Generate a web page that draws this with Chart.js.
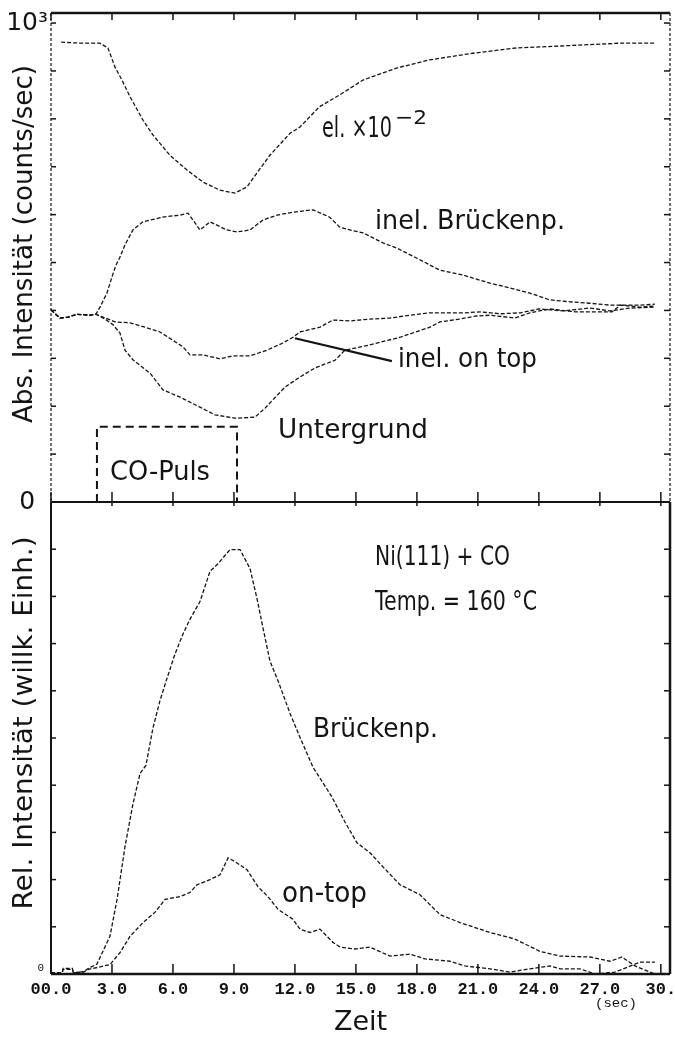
<!DOCTYPE html>
<html>
<head>
<meta charset="utf-8">
<script src="https://cdn.jsdelivr.net/npm/chart.js@4.4.1/dist/chart.umd.min.js"></script>
<style>
html,body{margin:0;padding:0;background:#fff;}
#wrap{position:relative;width:675px;height:1038px;overflow:hidden;}
canvas{position:absolute;left:0;top:0;}
</style>
</head>
<body>
<div id="wrap">
<canvas id="c1" width="675" height="1038"></canvas>
<canvas id="c2" width="675" height="1038"></canvas>
</div>
<script>
// ---------- DATA ----------
// time axis (sec)
const xTickVals   = [0,3,6,9,12,15,18,21,24,27,30];
const xTickLabels = ['00.0','3.0','6.0','9.0','12.0','15.0','18.0','21.0','24.0','27.0','30.'];

// upper panel: absolute intensity (counts/sec), linear 0..10^3
const yTopTicks  = [0,100,200,300,400,500,600,700,800,900,1000];
const yTopLabels = ['0','','','','','','','','','','10³'];

// el. x10^-2
const elT = [0.5,1.5,2.4,2.8,3.15,3.49,3.89,4.53,5.02,5.85,6.69,7.48,8.31,9.05,9.64,10.13,10.77,11.76,12.25,13.2,14.2,15.35,17.0,18.6,20.75,22.9,25.0,28.0,29.7];
const elV = [960,958,958,948,908,881,846,797,766,724,693,668,651,645,658,687,724,770,783,825,850,881,906,923,937,948,952,958,958];

// inel. Brückenp.
const brT = [0,0.44,0.84,1.28,1.92,2.21,2.41,2.75,3.0,3.2,3.39,3.64,4.03,4.53,5.51,6.35,6.74,6.98,7.33,7.82,8.65,9.15,9.79,10.43,11.12,11.9,12.89,13.7,14.2,14.7,15.35,16.33,17.02,18.0,19.13,20.26,21.59,22.58,23.56,24.54,25.53,26.51,27.5,28.97,29.71];
const brV = [401,384,386,392,390,392,407,436,470,495,511,537,568,585,595,599,603,589,568,585,568,564,568,589,599,605,610,595,574,568,562,541,530,509,484,474,457,447,436,422,418,415,411,411,413];

// inel. on top
const otT = [0,0.44,0.84,1.28,1.92,2.21,2.56,3.15,3.89,4.62,5.36,6.2,6.49,6.84,7.48,8.31,8.95,9.79,10.62,11.41,11.9,12.25,13.23,13.87,14.7,15.69,16.67,17.66,18.64,19.63,20.36,21.1,22.1,23.1,24.0,25.2,26.5,27.5,28.5,29.7];
const otV = [401,384,386,392,390,392,386,376,374,365,355,332,324,307,307,299,305,305,317,332,344,355,365,380,378,382,384,390,395,395,395,397,393,395,403,399,405,399,405,407];

// Untergrund
const ugT = [0,0.44,0.84,1.28,1.92,2.21,2.66,3.05,3.39,3.64,4.03,4.87,5.51,6.35,7.33,8.06,9.05,10.03,10.53,11.51,12.25,12.99,13.97,14.46,15.69,17.17,18.64,19.13,20.12,20.85,21.6,22.82,23.56,24.54,25.8,27.6,28.0,29.0,29.7];
const ugV = [401,384,386,392,390,392,382,370,353,317,297,269,234,219,198,182,175,177,196,240,261,280,296,317,328,344,365,376,382,388,390,384,395,403,397,397,411,407,409];

// CO-Puls box (start, end of pulse; box height)
const pulseT = [2.26,2.26,9.15,9.15];
const pulseV = [0,157,157,0];

// pointer line for "inel. on top"
const ptrT = [12.0,16.77];
const ptrV = [342,294];

// lower panel: relative intensity (arb. units)
const yBotTicks  = [0,1,2,3,4,5,6,7,8,9,10];
const yBotLabels = ['0','','','','','','','','','',''];

// Brückenp.
const bbT = [0,0.55,0.6,1.05,1.1,1.6,1.85,2.26,2.9,3.25,3.64,4.03,4.38,4.67,5.02,5.36,5.71,6.1,6.49,6.84,7.33,7.82,8.21,8.8,9.3,9.79,10.13,10.43,10.77,11.17,11.76,12.25,12.89,13.82,14.46,15.05,15.69,16.33,17.17,18.15,19.13,20.12,21.59,22.82,24.05,25.04,26.51,27.5,28.09,28.73,29.71];
const bbV = [0.03,0.03,0.12,0.12,0.02,0.05,0.12,0.21,0.8,1.58,2.7,3.6,4.25,4.42,5.22,5.79,6.27,6.78,7.2,7.52,7.89,8.53,8.69,8.99,8.99,8.59,7.96,7.33,6.63,6.21,5.52,5.01,4.38,3.75,3.22,2.78,2.57,2.27,1.89,1.68,1.26,1.09,0.88,0.74,0.48,0.38,0.36,0.27,0.36,0.17,0.0];

// on-top
const boT = [0,0.55,0.6,1.05,1.1,1.6,1.85,2.41,2.9,3.39,3.89,4.53,5.12,5.61,6.35,6.84,7.18,7.82,8.31,8.71,9.05,9.64,10.18,10.67,11.17,11.9,12.25,12.74,13.23,13.87,14.22,14.95,15.69,16.67,17.66,18.4,19.63,20.36,21.59,22.58,23.56,24.54,25.04,26.02,26.76,27.74,28.97,29.71];
const boV = [0.03,0.03,0.1,0.1,0.03,0.04,0.1,0.15,0.2,0.45,0.8,1.09,1.31,1.58,1.64,1.73,1.89,2.0,2.1,2.46,2.38,2.21,1.85,1.64,1.37,1.16,0.95,0.88,0.95,0.67,0.57,0.53,0.57,0.38,0.42,0.32,0.27,0.17,0.11,0.04,0.11,0.17,0.11,0.11,0.0,0.04,0.25,0.25];

// ---------- RENDERING ----------
const INK = '#141414';
Chart.defaults.font.family = "'DejaVu Sans', sans-serif";
Chart.defaults.color = INK;

function pts(t, v){ return t.map((x,i)=>({x:x, y:v[i]})); }
function lineDs(data, extra){
  return Object.assign({data:data, borderColor:INK, borderWidth:1.3, borderDash:[4,2],
    pointRadius:0, tension:0, fill:false}, extra||{});
}

function framePlugin(cfg){
  return {id:'frame', afterDatasetsDraw(chart){
    const ctx = chart.ctx, a = chart.chartArea, x = chart.scales.x, y = chart.scales.y;
    const seg = (s,x1,y1,x2,y2)=>{ if(!s) return; ctx.save(); ctx.strokeStyle=INK; ctx.lineWidth=s.w;
      ctx.setLineDash(s.dash||[]); ctx.beginPath(); ctx.moveTo(x1,y1); ctx.lineTo(x2,y2); ctx.stroke(); ctx.restore(); };
    seg(cfg.top, a.left, a.top, a.right, a.top);
    seg(cfg.bottom, a.left, a.bottom, a.right, a.bottom);
    seg(cfg.left, a.left, a.top, a.left, a.bottom);
    seg(cfg.right, a.right, a.top, a.right, a.bottom);
    const tk = {w:1.5};
    x.ticks.forEach(t=>{ const p = x.getPixelForValue(t.value);
      if(cfg.tTop) seg(tk, p, a.top, p, a.top+cfg.tTop);
      if(cfg.tBottom) seg(tk, p, a.bottom, p, a.bottom-cfg.tBottom); });
    y.ticks.forEach(t=>{ const p = y.getPixelForValue(t.value);
      if(cfg.tLeft) seg(tk, a.left, p, a.left+cfg.tLeft, p);
      if(cfg.tRight) seg(tk, a.right, p, a.right-cfg.tRight, p); });
  }};
}

function drawNote(ctx, n){
  ctx.save();
  ctx.font = (n.weight||'normal') + ' ' + n.size + 'px ' + (n.family||"'DejaVu Sans'");
  ctx.fillStyle = INK;
  const m = ctx.measureText(n.t).width;
  const sx = n.w ? n.w/m : 1;
  ctx.translate(n.x, n.y);
  if(n.rot){ ctx.rotate(-Math.PI/2); ctx.textAlign='center'; } else { ctx.textAlign='left'; }
  ctx.scale(sx,1);
  ctx.textBaseline='alphabetic';
  ctx.fillText(n.t,0,0);
  ctx.restore();
}
function notesPlugin(items){
  return {id:'notes', afterDraw(chart){ items.forEach(n=>drawNote(chart.ctx,n)); }};
}

const topNotes = [
  {t:'el. ×10', x:322, y:137, size:28, w:70},
  {t:'−2', x:395, y:124, size:20, w:32},
  {t:'inel. Brückenp.', x:375, y:229, size:27, w:190},
  {t:'inel. on top', x:398, y:367, size:27, w:139},
  {t:'Untergrund', x:278, y:438, size:27, w:150},
  {t:'CO-Puls', x:110, y:480, size:27, w:100},
  {t:'Abs. Intensität (counts/sec)', x:32, y:244, size:26, w:358, rot:true}
];
const botNotes = [
  {t:'Ni(111) + CO', x:375, y:565, size:27, w:135},
  {t:'Temp. = 160 °C', x:375, y:610, size:27, w:162},
  {t:'Brückenp.', x:313, y:737, size:27, w:125},
  {t:'on-top', x:282, y:902, size:29, w:85},
  {t:'(sec)', x:595, y:1007, size:12, w:42, family:"'Liberation Mono'"},
  {t:'Rel. Intensität (willk. Einh.)', x:32, y:723, size:26, w:373, rot:true}
];

const common = {responsive:false, animation:false, devicePixelRatio:1, events:[],
  plugins:{legend:{display:false}, tooltip:{enabled:false}}};

new Chart(document.getElementById('c1'), {
  type:'line',
  data:{datasets:[
    lineDs(pts(elT,elV)),
    lineDs(pts(brT,brV)),
    lineDs(pts(otT,otV)),
    lineDs(pts(ugT,ugV)),
    lineDs(pts(pulseT,pulseV), {borderWidth:2, borderDash:[8,5]}),
    lineDs(pts(ptrT,ptrV), {borderWidth:2.2, borderDash:[]})
  ]},
  options:Object.assign({}, common, {
    layout:{padding:{left:0,right:5,top:13,bottom:536}},
    scales:{
      x:{type:'linear', min:0, max:30.45,
        afterBuildTicks:s=>{ s.ticks = xTickVals.map(v=>({value:v})); },
        ticks:{display:false}, grid:{display:false, drawTicks:false}, border:{display:false},
        afterFit:s=>{ s.height=0; s.paddingLeft=0; s.paddingRight=0; }},
      y:{type:'linear', min:0, max:1021,
        afterBuildTicks:s=>{ s.ticks = yTopTicks.map(v=>({value:v})); },
        ticks:{callback:(v,i)=>yTopLabels[i], font:{size:25}, crossAlign:'center', padding:3, color:INK},
        grid:{display:false, drawTicks:false}, border:{display:false},
        afterFit:s=>{ s.width=51; s.paddingTop=0; s.paddingBottom=0; }}
    }
  }),
  plugins:[framePlugin({top:{w:2.5}, bottom:{w:2}, left:{w:1.2,dash:[3,2]}, right:{w:1.2,dash:[3,2]},
    tTop:7, tBottom:10, tLeft:5, tRight:6}), notesPlugin(topNotes)]
});

new Chart(document.getElementById('c2'), {
  type:'line',
  data:{datasets:[
    lineDs(pts(bbT,bbV)),
    lineDs(pts(boT,boV))
  ]},
  options:Object.assign({}, common, {
    layout:{padding:{left:0,right:5,top:502,bottom:0}},
    scales:{
      x:{type:'linear', min:0, max:30.45,
        afterBuildTicks:s=>{ s.ticks = xTickVals.map(v=>({value:v})); },
        ticks:{callback:(v,i)=>xTickLabels[i], autoSkip:false, maxRotation:0, minRotation:0,
          font:{family:"'Liberation Mono', monospace", size:17, weight:'bold'}, padding:6, color:INK},
        grid:{display:false, drawTicks:false}, border:{display:false},
        title:{display:true, text:'Zeit', font:{size:27, lineHeight:1}, padding:{top:0,bottom:2}, color:INK},
        afterFit:s=>{ s.height=64; s.paddingLeft=0; s.paddingRight=0; }},
      y:{type:'linear', min:0, max:10,
        afterBuildTicks:s=>{ s.ticks = yBotTicks.map(v=>({value:v})); },
        ticks:{callback:(v,i)=>yBotLabels[i], font:{family:"'Liberation Mono', monospace", size:11},
          padding:7, labelOffset:-6, color:INK},
        grid:{display:false, drawTicks:false}, border:{display:false},
        afterFit:s=>{ s.width=51; s.paddingTop=0; s.paddingBottom=0; }}
    }
  }),
  plugins:[framePlugin({bottom:{w:2.5}, left:{w:2}, right:{w:2.5},
    tTop:4, tBottom:10, tLeft:5, tRight:6}), notesPlugin(botNotes)]
});
</script>
</body>
</html>
